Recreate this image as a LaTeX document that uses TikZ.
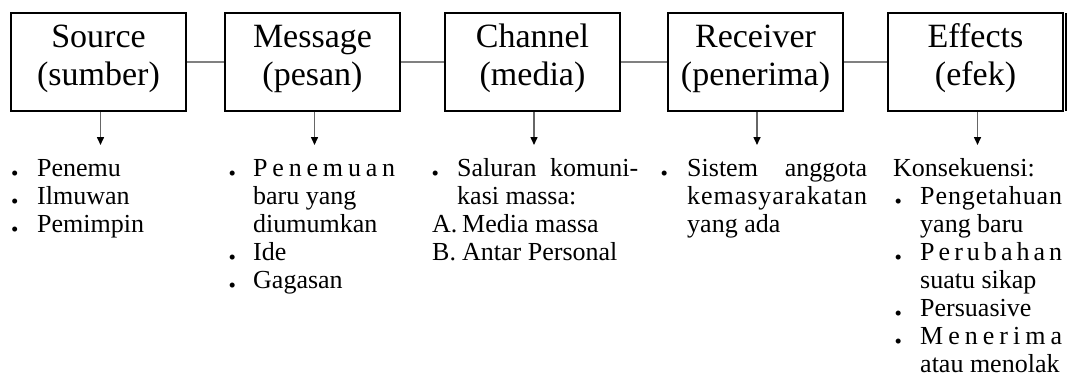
\documentclass[tikz,border=0pt]{standalone}
\usepackage{fontspec}
\setmainfont{Liberation Serif}
\usetikzlibrary{arrows.meta}
\newcommand{\bul}{{\fontsize{21}{21}\selectfont\raisebox{-4.5pt}{\textbullet}}}
\newcommand{\itm}[1]{\makebox[#1][l]{\makebox[0pt]{\bul}}}
\newcommand{\spr}[2]{\makebox[#1][s]{#2}}
\tikzset{
  box/.style={draw, line width=2.5pt, minimum width=175pt, minimum height=98pt,
    inner sep=0pt, align=center, font=\fontsize{34}{38}\selectfont},
  lst/.style={anchor=north west, inner sep=0pt, align=left,
    font=\fontsize{26}{28}\selectfont},
  link/.style={draw=black!50, line width=2pt},
  arr/.style={draw=black!60, line width=1.5pt,
    -{Triangle[length=8pt,width=7pt,color=black]}}
}
\begin{document}
\begin{tikzpicture}[x=1pt,y=-1pt]
\useasboundingbox (0,0) rectangle (1067,380);
% boxes
\node[box] (b1) at (98.5,62) {\rule{0pt}{25pt}Source\\(sumber)\rule[-16pt]{0pt}{16pt}};
\node[box] (b2) at (312.5,62) {\rule{0pt}{25pt}Message\\(pesan)\rule[-16pt]{0pt}{16pt}};
\node[box] (b3) at (532.5,62) {\rule{0pt}{25pt}Channel\\(media)\rule[-16pt]{0pt}{16pt}};
\node[box] (b4) at (755.5,62) {\rule{0pt}{25pt}Receiver\\(penerima)\rule[-16pt]{0pt}{16pt}};
\node[box] (b5) at (975.5,62) {\rule{0pt}{25pt}Effects\\(efek)\rule[-16pt]{0pt}{16pt}};
\fill (1064.5,13) rectangle (1067,111);
% links
\draw[link] (b1.east) -- (b2.west);
\draw[link] (b2.east) -- (b3.west);
\draw[link] (b3.east) -- (b4.west);
\draw[link] (b4.east) -- (b5.west);
% arrows
\coordinate (t1) at (100.5,145);
\coordinate (t2) at (314.5,145);
\coordinate (t3) at (534,145);
\coordinate (t4) at (757,145);
\coordinate (t5) at (977.5,145);
\draw[arr] (b1.south -| t1) -- (t1);
\draw[arr] (b2.south -| t2) -- (t2);
\draw[arr] (b3.south -| t3) -- (t3);
\draw[arr] (b4.south -| t4) -- (t4);
\draw[arr] (b5.south -| t5) -- (t5);
% lists
\node[lst] (l1) at (14.5,156) {\rule{0pt}{20pt}\itm{22.5pt}Penemu\\
\itm{22.5pt}Ilmuwan\\
\itm{22.5pt}Pemimpin};
\node[lst] (l2) at (232,156) {\rule{0pt}{20pt}\itm{21pt}\spr{142pt}{P\hfill e\hfill n\hfill e\hfill m\hfill u\hfill a\hfill n}\\
\hspace*{21pt}baru yang\\
\hspace*{21pt}diumumkan\\
\itm{21pt}Ide\\
\itm{21pt}Gagasan};
\node[lst] (l3) at (435,156) {\rule{0pt}{20pt}\itm{22pt}\spr{181pt}{Saluran\hfill komuni-}\\
\hspace*{22pt}kasi massa:\\
\hspace*{-3pt}\makebox[30pt][l]{A.}Media massa\\
\hspace*{-3pt}\makebox[30pt][l]{B.}Antar Personal};
\node[lst] (l4) at (664,156) {\rule{0pt}{20pt}\itm{23pt}\spr{180pt}{Sistem\hfill anggota}\\
\hspace*{23pt}\spr{180pt}{k\hfill e\hfill m\hfill a\hfill s\hfill y\hfill a\hfill r\hfill a\hfill k\hfill a\hfill t\hfill a\hfill n}\\
\hspace*{23pt}yang ada};
\node[lst] (l5) at (898,156) {\rule{0pt}{20pt}\hspace*{-5pt}Konsekuensi:\\
\itm{22pt}\spr{142pt}{P\hfill e\hfill n\hfill g\hfill e\hfill t\hfill a\hfill h\hfill u\hfill a\hfill n}\\
\hspace*{22pt}yang baru\\
\itm{22pt}\spr{142pt}{P\hfill e\hfill r\hfill u\hfill b\hfill a\hfill h\hfill a\hfill n}\\
\hspace*{22pt}suatu sikap\\
\itm{22pt}Persuasive\\
\itm{22pt}\spr{142pt}{M\hfill e\hfill n\hfill e\hfill r\hfill i\hfill m\hfill a}\\
\hspace*{22pt}atau menolak};
\end{tikzpicture}
\end{document}
